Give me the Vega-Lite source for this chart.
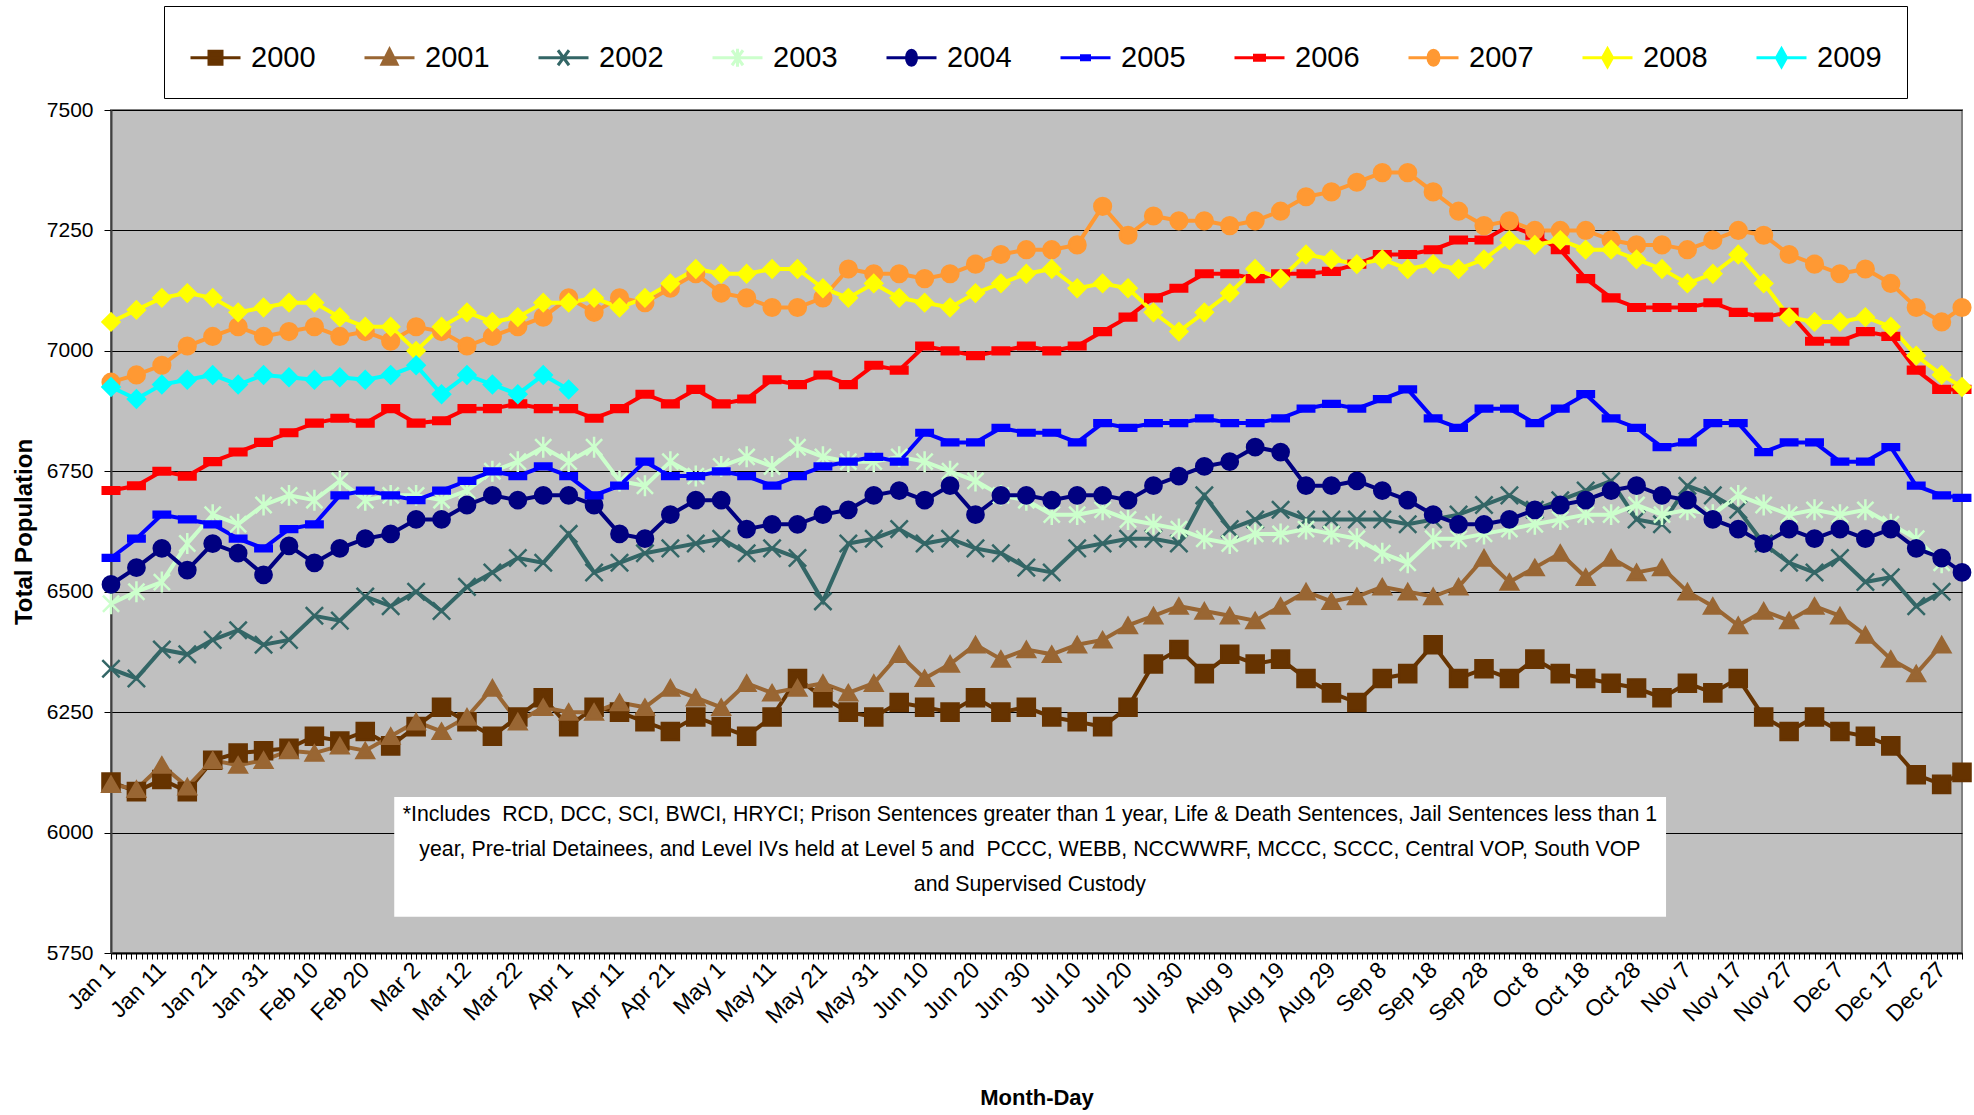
{
  "$schema": "https://vega.github.io/schema/vega-lite/v6.json",
  "width": 1851,
  "height": 843,
  "autosize": "none",
  "padding": {"left": 111, "top": 110, "right": 12, "bottom": 162},
  "background": "white",
  "config": {
    "view": {"fill": "#C0C0C0", "stroke": "#808080", "strokeWidth": 2},
    "font": "Liberation Sans"
  },
  "datasets": {
    "years": [
      {"k":"2000","y":"2000"},{"k":"2001","y":"2001"},{"k":"2002","y":"2002"},{"k":"2003","y":"2003"},{"k":"2004","y":"2004"},
      {"k":"2005","y":"2005"},{"k":"2006","y":"2006"},{"k":"2007","y":"2007"},{"k":"2008","y":"2008"},{"k":"2009","y":"2009"}
    ],
    "pop": [
      {"d":1,"2000":6105,"2001":6100,"2002":6340,"2003":6475,"2004":6515,"2005":6570,"2006":6710,"2007":6935,"2008":7060,"2009":6925},
      {"d":6,"2000":6085,"2001":6090,"2002":6320,"2003":6500,"2004":6550,"2005":6610,"2006":6720,"2007":6950,"2008":7085,"2009":6900},
      {"d":11,"2000":6110,"2001":6140,"2002":6380,"2003":6520,"2004":6590,"2005":6660,"2006":6750,"2007":6970,"2008":7110,"2009":6930},
      {"d":16,"2000":6085,"2001":6095,"2002":6370,"2003":6600,"2004":6545,"2005":6650,"2006":6740,"2007":7010,"2008":7120,"2009":6940},
      {"d":21,"2000":6150,"2001":6150,"2002":6400,"2003":6660,"2004":6600,"2005":6640,"2006":6770,"2007":7030,"2008":7110,"2009":6950},
      {"d":26,"2000":6165,"2001":6140,"2002":6420,"2003":6640,"2004":6580,"2005":6610,"2006":6790,"2007":7050,"2008":7080,"2009":6930},
      {"d":31,"2000":6170,"2001":6150,"2002":6390,"2003":6680,"2004":6535,"2005":6590,"2006":6810,"2007":7030,"2008":7090,"2009":6950},
      {"d":36,"2000":6175,"2001":6170,"2002":6400,"2003":6700,"2004":6595,"2005":6630,"2006":6830,"2007":7040,"2008":7100,"2009":6945},
      {"d":41,"2000":6200,"2001":6165,"2002":6450,"2003":6690,"2004":6560,"2005":6640,"2006":6850,"2007":7050,"2008":7100,"2009":6940},
      {"d":46,"2000":6190,"2001":6180,"2002":6440,"2003":6730,"2004":6590,"2005":6700,"2006":6860,"2007":7030,"2008":7070,"2009":6945},
      {"d":51,"2000":6210,"2001":6170,"2002":6490,"2003":6690,"2004":6610,"2005":6710,"2006":6850,"2007":7040,"2008":7050,"2009":6940},
      {"d":56,"2000":6180,"2001":6200,"2002":6470,"2003":6700,"2004":6620,"2005":6700,"2006":6880,"2007":7020,"2008":7050,"2009":6950},
      {"d":61,"2000":6220,"2001":6230,"2002":6500,"2003":6700,"2004":6650,"2005":6690,"2006":6850,"2007":7050,"2008":7000,"2009":6970},
      {"d":66,"2000":6260,"2001":6210,"2002":6460,"2003":6690,"2004":6650,"2005":6710,"2006":6855,"2007":7040,"2008":7050,"2009":6910},
      {"d":71,"2000":6230,"2001":6240,"2002":6510,"2003":6710,"2004":6680,"2005":6730,"2006":6880,"2007":7010,"2008":7080,"2009":6950},
      {"d":76,"2000":6200,"2001":6300,"2002":6540,"2003":6750,"2004":6700,"2005":6750,"2006":6880,"2007":7030,"2008":7060,"2009":6930},
      {"d":81,"2000":6240,"2001":6230,"2002":6570,"2003":6770,"2004":6690,"2005":6740,"2006":6890,"2007":7050,"2008":7070,"2009":6910},
      {"d":86,"2000":6280,"2001":6260,"2002":6560,"2003":6800,"2004":6700,"2005":6760,"2006":6880,"2007":7070,"2008":7100,"2009":6950},
      {"d":91,"2000":6220,"2001":6250,"2002":6620,"2003":6770,"2004":6700,"2005":6740,"2006":6880,"2007":7110,"2008":7100,"2009":6920},
      {"d":96,"2000":6260,"2001":6250,"2002":6540,"2003":6800,"2004":6680,"2005":6700,"2006":6860,"2007":7080,"2008":7110},
      {"d":101,"2000":6250,"2001":6270,"2002":6560,"2003":6730,"2004":6620,"2005":6720,"2006":6880,"2007":7110,"2008":7090},
      {"d":106,"2000":6230,"2001":6260,"2002":6580,"2003":6720,"2004":6610,"2005":6770,"2006":6910,"2007":7100,"2008":7110},
      {"d":111,"2000":6210,"2001":6300,"2002":6590,"2003":6770,"2004":6660,"2005":6740,"2006":6890,"2007":7130,"2008":7140},
      {"d":116,"2000":6240,"2001":6280,"2002":6600,"2003":6740,"2004":6690,"2005":6740,"2006":6920,"2007":7160,"2008":7170},
      {"d":121,"2000":6220,"2001":6260,"2002":6610,"2003":6760,"2004":6690,"2005":6750,"2006":6890,"2007":7120,"2008":7160},
      {"d":126,"2000":6200,"2001":6310,"2002":6580,"2003":6780,"2004":6630,"2005":6740,"2006":6900,"2007":7110,"2008":7160},
      {"d":131,"2000":6240,"2001":6290,"2002":6590,"2003":6760,"2004":6640,"2005":6720,"2006":6940,"2007":7090,"2008":7170},
      {"d":136,"2000":6320,"2001":6300,"2002":6570,"2003":6800,"2004":6640,"2005":6740,"2006":6930,"2007":7090,"2008":7170},
      {"d":141,"2000":6280,"2001":6310,"2002":6480,"2003":6780,"2004":6660,"2005":6760,"2006":6950,"2007":7110,"2008":7130},
      {"d":146,"2000":6250,"2001":6290,"2002":6600,"2003":6770,"2004":6670,"2005":6770,"2006":6930,"2007":7170,"2008":7110},
      {"d":151,"2000":6240,"2001":6310,"2002":6610,"2003":6770,"2004":6700,"2005":6780,"2006":6970,"2007":7160,"2008":7140},
      {"d":156,"2000":6270,"2001":6370,"2002":6630,"2003":6780,"2004":6710,"2005":6770,"2006":6960,"2007":7160,"2008":7110},
      {"d":161,"2000":6260,"2001":6320,"2002":6600,"2003":6770,"2004":6690,"2005":6830,"2006":7010,"2007":7150,"2008":7100},
      {"d":166,"2000":6250,"2001":6350,"2002":6610,"2003":6750,"2004":6720,"2005":6810,"2006":7000,"2007":7160,"2008":7090},
      {"d":171,"2000":6280,"2001":6390,"2002":6590,"2003":6730,"2004":6660,"2005":6810,"2006":6990,"2007":7180,"2008":7120},
      {"d":176,"2000":6250,"2001":6360,"2002":6580,"2003":6700,"2004":6700,"2005":6840,"2006":7000,"2007":7200,"2008":7140},
      {"d":181,"2000":6260,"2001":6380,"2002":6550,"2003":6690,"2004":6700,"2005":6830,"2006":7010,"2007":7210,"2008":7160},
      {"d":186,"2000":6240,"2001":6370,"2002":6540,"2003":6660,"2004":6690,"2005":6830,"2006":7000,"2007":7210,"2008":7170},
      {"d":191,"2000":6230,"2001":6390,"2002":6590,"2003":6660,"2004":6700,"2005":6810,"2006":7010,"2007":7220,"2008":7130},
      {"d":196,"2000":6220,"2001":6400,"2002":6600,"2003":6670,"2004":6700,"2005":6850,"2006":7040,"2007":7300,"2008":7140},
      {"d":201,"2000":6260,"2001":6430,"2002":6610,"2003":6650,"2004":6690,"2005":6840,"2006":7070,"2007":7240,"2008":7130},
      {"d":206,"2000":6350,"2001":6450,"2002":6610,"2003":6640,"2004":6720,"2005":6850,"2006":7110,"2007":7280,"2008":7080},
      {"d":211,"2000":6380,"2001":6470,"2002":6600,"2003":6630,"2004":6740,"2005":6850,"2006":7130,"2007":7270,"2008":7040},
      {"d":216,"2000":6330,"2001":6460,"2002":6700,"2003":6610,"2004":6760,"2005":6860,"2006":7160,"2007":7270,"2008":7080},
      {"d":221,"2000":6370,"2001":6450,"2002":6630,"2003":6600,"2004":6770,"2005":6850,"2006":7160,"2007":7260,"2008":7120},
      {"d":226,"2000":6350,"2001":6440,"2002":6650,"2003":6620,"2004":6800,"2005":6850,"2006":7150,"2007":7270,"2008":7170},
      {"d":231,"2000":6360,"2001":6470,"2002":6670,"2003":6620,"2004":6790,"2005":6860,"2006":7160,"2007":7290,"2008":7150},
      {"d":236,"2000":6320,"2001":6500,"2002":6650,"2003":6630,"2004":6720,"2005":6880,"2006":7160,"2007":7320,"2008":7200},
      {"d":241,"2000":6290,"2001":6480,"2002":6650,"2003":6620,"2004":6720,"2005":6890,"2006":7165,"2007":7330,"2008":7190},
      {"d":246,"2000":6270,"2001":6490,"2002":6650,"2003":6610,"2004":6730,"2005":6880,"2006":7180,"2007":7350,"2008":7180},
      {"d":251,"2000":6320,"2001":6510,"2002":6650,"2003":6580,"2004":6710,"2005":6900,"2006":7200,"2007":7370,"2008":7190},
      {"d":256,"2000":6330,"2001":6500,"2002":6640,"2003":6560,"2004":6690,"2005":6920,"2006":7200,"2007":7370,"2008":7170},
      {"d":261,"2000":6390,"2001":6490,"2002":6650,"2003":6610,"2004":6660,"2005":6860,"2006":7210,"2007":7330,"2008":7180},
      {"d":266,"2000":6320,"2001":6510,"2002":6660,"2003":6610,"2004":6640,"2005":6840,"2006":7230,"2007":7290,"2008":7170},
      {"d":271,"2000":6340,"2001":6570,"2002":6680,"2003":6620,"2004":6640,"2005":6880,"2006":7230,"2007":7260,"2008":7190},
      {"d":276,"2000":6320,"2001":6520,"2002":6700,"2003":6630,"2004":6650,"2005":6880,"2006":7260,"2007":7270,"2008":7230},
      {"d":281,"2000":6360,"2001":6550,"2002":6670,"2003":6640,"2004":6670,"2005":6850,"2006":7240,"2007":7250,"2008":7220},
      {"d":286,"2000":6330,"2001":6580,"2002":6690,"2003":6650,"2004":6680,"2005":6880,"2006":7210,"2007":7250,"2008":7230},
      {"d":291,"2000":6320,"2001":6530,"2002":6710,"2003":6660,"2004":6690,"2005":6910,"2006":7150,"2007":7250,"2008":7210},
      {"d":296,"2000":6310,"2001":6570,"2002":6730,"2003":6660,"2004":6710,"2005":6860,"2006":7110,"2007":7230,"2008":7210},
      {"d":301,"2000":6300,"2001":6540,"2002":6650,"2003":6680,"2004":6720,"2005":6840,"2006":7090,"2007":7220,"2008":7190},
      {"d":306,"2000":6280,"2001":6550,"2002":6640,"2003":6660,"2004":6700,"2005":6800,"2006":7090,"2007":7220,"2008":7170},
      {"d":311,"2000":6310,"2001":6500,"2002":6720,"2003":6670,"2004":6690,"2005":6810,"2006":7090,"2007":7210,"2008":7140},
      {"d":316,"2000":6290,"2001":6470,"2002":6700,"2003":6660,"2004":6650,"2005":6850,"2006":7100,"2007":7230,"2008":7160},
      {"d":321,"2000":6320,"2001":6430,"2002":6670,"2003":6700,"2004":6630,"2005":6850,"2006":7080,"2007":7250,"2008":7200},
      {"d":326,"2000":6240,"2001":6460,"2002":6600,"2003":6680,"2004":6600,"2005":6790,"2006":7070,"2007":7240,"2008":7140},
      {"d":331,"2000":6210,"2001":6440,"2002":6560,"2003":6660,"2004":6630,"2005":6810,"2006":7080,"2007":7200,"2008":7070},
      {"d":336,"2000":6240,"2001":6470,"2002":6540,"2003":6670,"2004":6610,"2005":6810,"2006":7020,"2007":7180,"2008":7060},
      {"d":341,"2000":6210,"2001":6450,"2002":6570,"2003":6660,"2004":6630,"2005":6770,"2006":7020,"2007":7160,"2008":7060},
      {"d":346,"2000":6200,"2001":6410,"2002":6520,"2003":6670,"2004":6610,"2005":6770,"2006":7040,"2007":7170,"2008":7070},
      {"d":351,"2000":6180,"2001":6360,"2002":6530,"2003":6640,"2004":6630,"2005":6800,"2006":7030,"2007":7140,"2008":7050},
      {"d":356,"2000":6120,"2001":6330,"2002":6470,"2003":6610,"2004":6590,"2005":6720,"2006":6960,"2007":7090,"2008":6990},
      {"d":361,"2000":6100,"2001":6390,"2002":6500,"2003":6560,"2004":6570,"2005":6700,"2006":6920,"2007":7060,"2008":6950},
      {"d":365,"2000":6125,"2004":6540,"2005":6695,"2006":6920,"2007":7090,"2008":6925}
    ]
  },
  "layer": [
    {
      "data": {"name": "pop"},
      "transform": [
        {"fold": ["2000","2001","2002","2003","2004","2005","2006","2007","2008","2009"], "as": ["k", "v"]},
        {"filter": "isValid(datum.v)"},
        {"lookup": "k", "from": {"data": {"name": "years"}, "key": "k", "fields": ["y"]}}
      ],
      "encoding": {
        "x": {
          "field": "d", "type": "quantitative",
          "scale": {"domain": [1, 365], "nice": false, "zero": false},
          "axis": {
            "title": "Month-Day", "tickCount": 365,
            "labelExpr": "(datum.value - 1) % 10 == 0 ? timeFormat(datetime(2001, 0, datum.value), '%b %-d') : ''",
            "labelAngle": -45, "labelAlign": "right", "labelBaseline": "middle",
            "labelOverlap": false, "labelBound": false, "labelFlush": false,
            "labelFont": "Liberation Sans", "labelFontSize": 23, "labelColor": "black", "labelPadding": 7,
            "tickSize": 6, "tickColor": "black", "tickWidth": 1, "domainColor": "black", "domainWidth": 2, "grid": false,
            "titleFont": "Liberation Sans", "titleFontSize": 22, "titleFontWeight": "bold", "titleColor": "black", "titlePadding": 60
          }
        },
        "y": {
          "field": "v", "type": "quantitative",
          "scale": {"domain": [5750, 7500], "nice": false, "zero": false},
          "axis": {
            "title": "Total Population",
            "values": [5750, 6000, 6250, 6500, 6750, 7000, 7250, 7500], "format": "d",
            "grid": true, "gridColor": "black", "gridWidth": 1, "gridOpacity": 1,
            "tickSize": 7, "tickColor": "black", "domainColor": "#404040", "domainWidth": 2,
            "labelFont": "Liberation Sans", "labelFontSize": 21, "labelColor": "black", "labelPadding": 11,
            "titleFont": "Liberation Sans", "titleFontSize": 24, "titleFontWeight": "bold", "titleColor": "black", "titlePadding": 10
          }
        }
      },
      "layer": [
        {
          "mark": {"type": "line", "interpolate": "linear", "strokeWidth": 4},
          "encoding": {
            "color": {
              "field": "k", "type": "nominal",
              "scale": {"domain": ["2000","2001","2002","2003","2004","2005","2006","2007","2008","2009"],
                        "range": ["#663300","#996633","#336666","#CCFFCC","#000080","#0000FF","#FF0000","#FF9933","#FFFF00","#00FFFF"]},
              "legend": {
                "orient": "none", "legendX": 53, "legendY": -104, "direction": "horizontal", "columns": 10, "title": null,
                "symbolSize": 2500, "labelOffset": 9, "columnPadding": 42, "padding": 25,
                "labelFont": "Liberation Sans", "labelFontSize": 29, "labelColor": "black",
                "strokeColor": "black", "fillColor": "white", "symbolStrokeWidth": 3,
                "encoding": {
                  "symbols": {
                    "shape": {"value": {"expr": "['M-1,0H1M-0.26,-0.26H0.26V0.26H-0.26Z','M-1,0H1M0,-0.34L0.3,0.26H-0.3Z','M-1,0H1M-0.22,-0.3L0.22,0.3M-0.22,0.3L0.22,-0.3','M-1,0H1M-0.22,-0.3L0.22,0.3M-0.22,0.3L0.22,-0.3M0,-0.36V0.36','M-1,0H1M-0.2,0A0.2,0.3 0 1,1 0.2,0A0.2,0.3 0 1,1 -0.2,0Z','M-1,0H1M-0.16,-0.08H0.16V0.08H-0.16Z','M-1,0H1M-0.2,-0.1H0.2V0.1H-0.2Z','M-1,0H1M-0.22,0A0.22,0.3 0 1,1 0.22,0A0.22,0.3 0 1,1 -0.22,0Z','M-1,0H1M0,-0.36L0.2,0L0,0.36L-0.2,0Z','M-1,0H1M0,-0.36L0.2,0L0,0.36L-0.2,0Z'][toNumber(datum.value) - 2000]"}},
                    "fill": {"value": {"expr": "scale('color', datum.value)"}},
                    "size": {"value": 2500},
                    "strokeWidth": {"value": 3},
                    "opacity": {"value": 1}
                  }
                }
              }
            }
          }
        },
        {
          "mark": {"type": "point", "filled": true, "strokeWidth": 2.5, "opacity": 1},
          "encoding": {
            "fill": {"field": "y", "type": "nominal", "legend": null,
              "scale": {"domain": ["2009","2008","2007","2006","2005","2004","2003","2002","2001","2000"],
                        "range": ["#00FFFF","#FFFF00","#FF9933","#FF0000","#0000FF","#000080","#CCFFCC","#336666","#996633","#663300"]}},
            "stroke": {"field": "y", "type": "nominal", "legend": null,
              "scale": {"domain": ["2001","2002","2003","2004","2005","2006","2007","2008","2009","2000"],
                        "range": ["#996633","#336666","#CCFFCC","#000080","#0000FF","#FF0000","#FF9933","#FFFF00","#00FFFF","#663300"]}},
            "shape": {"field": "y", "type": "nominal", "legend": null,
              "scale": {"domain": ["2002","2003","2004","2005","2006","2007","2008","2009","2000","2001"],
                        "range": ["M-1,-1L1,1M-1,1L1,-1", "M-1,-1L1,1M-1,1L1,-1M0,-1.3V1.3", "circle", "M-1,-0.35H1V0.35H-1Z", "M-1,-0.4H1V0.4H-1Z", "circle", "diamond", "diamond", "square", "triangle-up"]}},
            "size": {"field": "y", "type": "nominal", "legend": null,
              "scale": {"domain": ["2003","2004","2005","2006","2007","2008","2009","2000","2001","2002"],
                        "range": [260, 300, 100, 180, 340, 340, 300, 240, 280, 260]}}
          }
        }
      ]
    },
    {
      "data": {"values": [{"n": 1}]},
      "mark": {"type": "rect", "fill": "white"},
      "encoding": {
        "x": {"datum": 56.7, "type": "quantitative"},
        "x2": {"datum": 306.8},
        "y": {"datum": 6074, "type": "quantitative"},
        "y2": {"datum": 5825}
      }
    },
    {
      "data": {"values": [{"n": 1}]},
      "mark": {"type": "text", "align": "center", "baseline": "middle", "lineHeight": 35, "font": "Liberation Sans", "fontSize": 21.3, "color": "black"},
      "encoding": {
        "x": {"datum": 181.7, "type": "quantitative"},
        "y": {"datum": 6037, "type": "quantitative"},
        "text": {"value": ["*Includes \u00a0RCD, DCC, SCI, BWCI, HRYCI; Prison Sentences greater than 1 year, Life & Death Sentences, Jail Sentences less than 1", "year, Pre-trial Detainees, and Level IVs held at Level 5 and \u00a0PCCC, WEBB, NCCWWRF, MCCC, SCCC, Central VOP, South VOP", "and Supervised Custody"]}
      }
    }
  ]
}
